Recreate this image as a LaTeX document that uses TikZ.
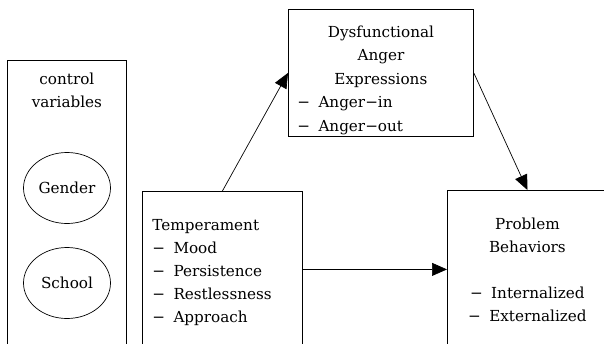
\documentclass[tikz,border=0pt]{standalone}
\usepackage{fontspec}
\setmainfont{DejaVu Serif}
\usetikzlibrary{arrows.meta,positioning,shapes.geometric}

\newcommand{\itemdash}{−\hspace{0.55em}}
\tikzset{
  box/.style={draw, line width=0.8pt, rectangle},
  var/.style={draw, line width=0.7pt, ellipse, inner sep=0pt,
    minimum width=87pt, minimum height=71pt}
}

\begin{document}
\begin{tikzpicture}[x=1pt,y=-1pt,>={Triangle[length=15pt,width=13pt]},
  font=\fontsize{15.2}{23}\selectfont]
  \useasboundingbox (0,0) rectangle (604,343);
  % control variables
  \node[box, minimum width=119pt, minimum height=300pt, anchor=north west] (ctrl) at (7,60) {};
  \node[align=center, below=9pt of ctrl.north] (ctrltitle) {control\\variables};
  \node[var] (gender) at (67,188) {Gender};
  \node[var] (school) at (67,283) {School};
  % model
  \node[box, text width=140pt, inner xsep=10pt, minimum height=156pt, align=left,
    anchor=north west] (temp) at (142,191)
    {\rule{0pt}{17pt}Temperament\\\itemdash Mood\\\itemdash Persistence\\\itemdash Restlessness\\\itemdash Approach};
  \node[box, text width=167pt, inner xsep=9pt, inner ysep=1pt, minimum height=127pt,
    align=center, anchor=north west, font=\fontsize{15.2}{23.5}\selectfont] (dys) at (288,9)
    {\rule{0pt}{26pt}Dysfunctional\\Anger\\Expressions\\
     \makebox[\linewidth][l]{\itemdash Anger−in}\\\makebox[\linewidth][l]{\itemdash Anger−out}};
  \node[box, text width=140pt, inner xsep=10pt, minimum height=158pt, align=center,
    anchor=north west] (prob) at (447,190)
    {Problem\\Behaviors\\[23pt]\itemdash Internalized\\\itemdash Externalized};
  \path[->, line width=0.7pt]
  (temp.north) edge (dys.west)
  (dys.east) edge (prob.north)
  (temp.east) edge (prob.west)
  ;
\end{tikzpicture}
\end{document}
